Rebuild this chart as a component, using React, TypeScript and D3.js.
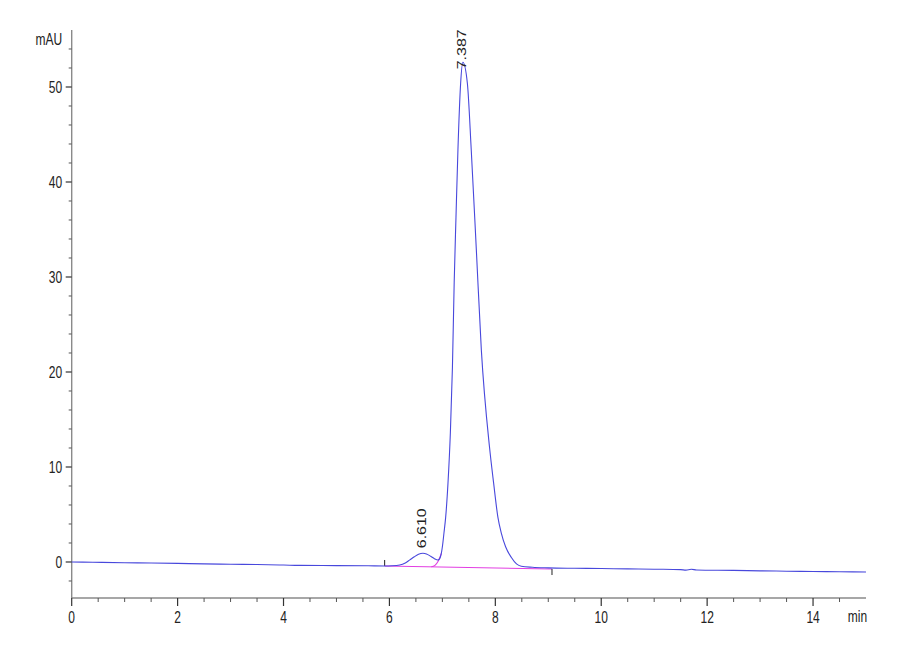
import React from "react";
import * as d3 from "d3";

// Chromatogram signal (time in min, absorbance in mAU)
const times = [
  0, 0.4, 1.0, 1.5, 2.0, 2.5, 3.0, 3.5, 4.0, 4.3, 5.0, 5.6, 5.91, 6.05, 6.194, 6.3, 6.38,
  6.47, 6.55, 6.634, 6.7, 6.78, 6.85, 6.917, 6.95, 6.98, 7.0, 7.03, 7.062, 7.106, 7.151,
  7.19, 7.223, 7.257, 7.294, 7.345, 7.387, 7.472, 7.545, 7.642, 7.736, 7.89,
  7.968, 8.049, 8.113, 8.194, 8.3, 8.4, 8.49, 8.7, 9.0, 9.5, 10.0, 10.5, 11.0, 11.5,
  11.6, 11.7, 11.8, 12.5, 13.0, 13.5, 14.0, 14.5, 15.0,
];
const signal = [
  0, -0.03, -0.08, -0.1, -0.15, -0.2, -0.24, -0.27, -0.32, -0.36, -0.38, -0.4, -0.42,
  -0.4, -0.32, -0.1, 0.2, 0.55, 0.82, 0.92, 0.85, 0.6, 0.35, 0.21, 0.35, 0.9, 1.6, 3.05,
  4.7, 8.3, 13.6, 20.5, 29.4, 36.3, 43.4, 50.4, 52.6, 50.4, 43.4, 32.8, 22.3, 12.1,
  8.3, 4.7, 3.05, 1.6, 0.5, -0.2, -0.45, -0.56, -0.62, -0.66, -0.69, -0.72, -0.76, -0.8,
  -0.86, -0.76, -0.84, -0.88, -0.93, -0.97, -1.0, -1.03, -1.06,
];

// Integration baseline (magenta) and peak skim at the valley
const baseTimes = [5.91, 9.07];
const baseValues = [-0.42, -0.74];
const skimTimes = [6.79, 6.86, 6.917, 6.95, 6.98];
const skimValues = [-0.5, -0.35, 0.05, 0.45, 0.9];

// Peak labels
const peakTimes = [6.61, 7.387];
const peakHeights = [0.92, 52.6];
const peakLabels = ["6.610", "7.387"];

// Axis ticks
const xMajor = [0, 2, 4, 6, 8, 10, 12, 14];
const yMajor = [0, 10, 20, 30, 40, 50];

const W = 900;
const H = 660;
const X0 = 71.7;
const X1 = 866;
const YTOP = 30;
const YBOT = 598;

const FONT = "'Liberation Sans', Arial, sans-serif";
const SX = 0.75;

export default function App() {
  const x = d3.scaleLinear().domain([0, 15]).range([X0, X1]);
  const y = d3.scaleLinear().domain([-3.79, 56]).range([YBOT, YTOP]);

  const xMinor = d3.range(0, 14.75, 0.5).filter((v) => !xMajor.includes(v));
  const yMinor = d3.range(-2, 56, 2).filter((v) => !yMajor.includes(v));

  const line = d3
    .line<number>()
    .x((_, i) => x(times[i]))
    .y((d) => y(d))
    .curve(d3.curveMonotoneX);
  const sigPath = line(signal) || "";

  const baseLine = d3
    .line<number>()
    .x((_, i) => x(baseTimes[i]))
    .y((d) => y(d));
  const basePath = baseLine(baseValues) || "";

  const skimLine = d3
    .line<number>()
    .x((_, i) => x(skimTimes[i]))
    .y((d) => y(d))
    .curve(d3.curveMonotoneX);
  const skimPath = skimLine(skimValues) || "";

  const labelOffsets = [-5, 7];
  const labelDx = [4.5, 3];

  const txt = (tx: number, ty: number, s: string, anchor: string, key?: string) => (
    <text
      key={key}
      transform={`translate(${tx},${ty}) scale(${SX},1)`}
      textAnchor={anchor}
      fontFamily={FONT}
      fontSize={16}
      fill="#222"
    >
      {s}
    </text>
  );

  return (
    <svg
      width={W}
      height={H}
      style={{ position: "absolute", left: 0, top: 0, background: "#fff" }}
    >
      {/* axes */}
      <line x1={X0} x2={X0} y1={YTOP} y2={YBOT} stroke="#8a8a8a" strokeWidth={1.4} />
      <line x1={X0} x2={X1} y1={YBOT} y2={YBOT} stroke="#8a8a8a" strokeWidth={1.4} />

      {yMajor.map((v) => (
        <g key={"ym" + v}>
          <line x1={X0 - 6} x2={X0} y1={y(v)} y2={y(v)} stroke="#333" strokeWidth={1.2} />
          {txt(X0 - 9.5, y(v) + 5.6, String(v), "end")}
        </g>
      ))}
      {yMinor.map((v) => (
        <line key={"yn" + v} x1={X0 - 3} x2={X0} y1={y(v)} y2={y(v)} stroke="#555" strokeWidth={1} />
      ))}
      {xMajor.map((v) => (
        <g key={"xm" + v}>
          <line x1={x(v)} x2={x(v)} y1={YBOT} y2={YBOT + 8} stroke="#333" strokeWidth={1.2} />
          {txt(x(v), YBOT + 25, String(v), "middle")}
        </g>
      ))}
      {xMinor.map((v) => (
        <line key={"xn" + v} x1={x(v)} x2={x(v)} y1={YBOT} y2={YBOT + 4} stroke="#555" strokeWidth={1} />
      ))}
      {txt(X0 - 9.5, 45, "mAU", "end")}
      {txt(857.5, YBOT + 24, "min", "middle")}

      {/* integration baseline */}
      <path d={basePath} fill="none" stroke="#e23ee2" strokeWidth={1.1} />
      <path d={skimPath} fill="none" stroke="#e23ee2" strokeWidth={1.1} />
      <line x1={x(baseTimes[0])} x2={x(baseTimes[0])} y1={y(baseValues[0])} y2={y(baseValues[0]) - 6} stroke="#222" strokeWidth={1} />
      <line x1={x(baseTimes[1])} x2={x(baseTimes[1])} y1={y(baseValues[1])} y2={y(baseValues[1]) + 6} stroke="#222" strokeWidth={1} />

      {/* signal */}
      <path d={sigPath} fill="none" stroke="#4848dc" strokeWidth={1.1} />

      {/* peak labels */}
      {peakTimes.map((t, i) => (
        <text
          key={"pl" + i}
          transform={`translate(${x(t) + labelDx[i]},${y(peakHeights[i]) + labelOffsets[i]}) scale(${SX},1) rotate(-90)`}
          fontFamily={FONT}
          fontSize={16}
          fill="#222"
        >
          {peakLabels[i]}
        </text>
      ))}
    </svg>
  );
}
